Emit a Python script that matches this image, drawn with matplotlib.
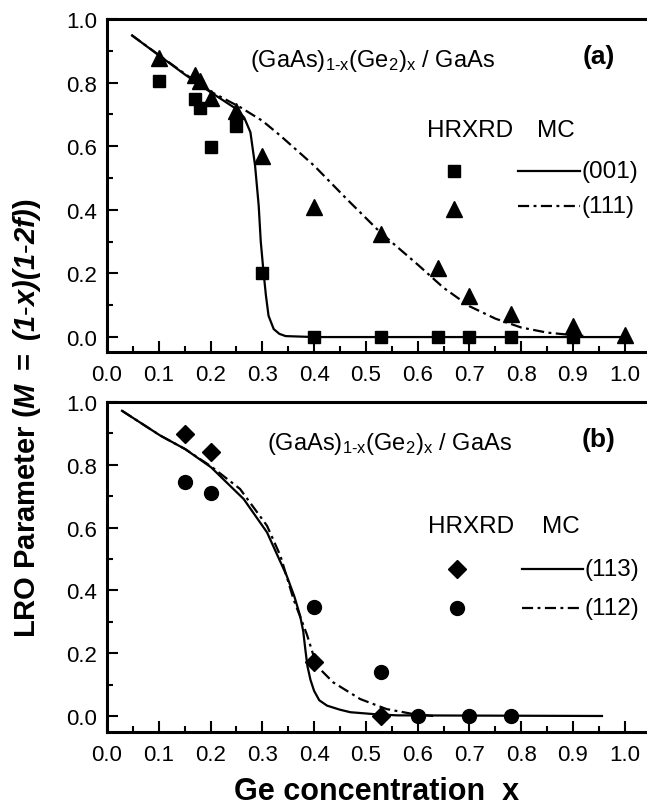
import matplotlib
matplotlib.use("Agg")
import matplotlib.pyplot as plt
from matplotlib.ticker import MultipleLocator, FormatStrFormatter

plt.rcParams['font.family'] = ['Liberation Sans', 'DejaVu Sans']
plt.rcParams['mathtext.fontset'] = 'custom'
plt.rcParams['mathtext.rm'] = 'Liberation Sans'
plt.rcParams['mathtext.it'] = 'Liberation Sans:italic'
plt.rcParams['mathtext.bf'] = 'Liberation Sans:bold'
plt.rcParams['mathtext.bfit'] = 'Liberation Sans:italic:bold'
plt.rcParams['mathtext.default'] = 'regular'

# ---------------- data: panel (a) ----------------
sq_x = [0.10, 0.17, 0.18, 0.20, 0.25, 0.30, 0.40, 0.53, 0.64, 0.70, 0.78, 0.90]
sq_y = [0.806, 0.75, 0.72, 0.597, 0.664, 0.20, 0.0, 0.0, 0.0, 0.0, 0.0, 0.0]
tri_x = [0.10, 0.17, 0.18, 0.20, 0.25, 0.30, 0.40, 0.53, 0.64, 0.70, 0.78, 0.90, 1.00]
tri_y = [0.876, 0.824, 0.806, 0.752, 0.712, 0.570, 0.408, 0.324, 0.216, 0.128, 0.074, 0.036, 0.006]
mc001_x = [0.047, 0.10, 0.15, 0.20, 0.25, 0.265, 0.277, 0.286, 0.293, 0.297, 0.302, 0.307,
           0.312, 0.322, 0.333, 0.345, 0.40, 1.0]
mc001_y = [0.95, 0.886, 0.826, 0.77, 0.717, 0.69, 0.644, 0.539, 0.413, 0.30, 0.21, 0.13,
           0.067, 0.025, 0.010, 0.003, 0.0, 0.0]
mc111_x = [0.047, 0.10, 0.15, 0.20, 0.258, 0.30, 0.335, 0.40, 0.463, 0.528, 0.60, 0.65,
           0.70, 0.75, 0.80, 0.85, 0.90, 0.92]
mc111_y = [0.95, 0.887, 0.828, 0.772, 0.722, 0.68, 0.633, 0.539, 0.434, 0.329, 0.228, 0.155,
           0.097, 0.058, 0.030, 0.014, 0.006, 0.004]

# ---------------- data: panel (b) ----------------
dia_x = [0.15, 0.20, 0.40, 0.53]
dia_y = [0.898, 0.842, 0.171, 0.0]
cir_x = [0.15, 0.20, 0.40, 0.53, 0.60, 0.70, 0.78]
cir_y = [0.744, 0.709, 0.346, 0.141, 0.0, 0.0, 0.0]
mc113_x = [0.029, 0.103, 0.151, 0.201, 0.264, 0.309, 0.347, 0.362, 0.373, 0.379, 0.383, 0.387,
           0.393, 0.40, 0.41, 0.425, 0.45, 0.47, 0.515, 0.56, 0.956]
mc113_y = [0.972, 0.893, 0.850, 0.792, 0.691, 0.585, 0.447, 0.38, 0.319, 0.27, 0.213, 0.16,
           0.115, 0.08, 0.05, 0.033, 0.02, 0.012, 0.006, 0.002, 0.0]
mc112_x = [0.029, 0.103, 0.151, 0.201, 0.257, 0.309, 0.335, 0.36, 0.386, 0.405, 0.437, 0.489,
           0.54, 0.592, 0.63]
mc112_y = [0.972, 0.893, 0.85, 0.795, 0.723, 0.606, 0.51, 0.373, 0.26, 0.16, 0.107, 0.054,
           0.022, 0.006, 0.0]

xticks = [0.0, 0.1, 0.2, 0.3, 0.4, 0.5, 0.6, 0.7, 0.8, 0.9, 1.0]
yticks = [0.0, 0.2, 0.4, 0.6, 0.8, 1.0]

title_txt = r'(GaAs)$_{\mathregular{1\text{-}x}}$(Ge$_{\mathregular{2}}$)$_{\mathregular{x}}$ / GaAs'

W, H = 647, 812
fig = plt.figure(figsize=(W / 100, H / 100), dpi=100)

def axes_rect(left, top, right, bottom):
    return [left / W, 1 - bottom / H, (right - left) / W, (bottom - top) / H]

ax1 = fig.add_axes(axes_rect(107, 20, 647, 353))
ax2 = fig.add_axes(axes_rect(107, 403, 647, 733))

DD = (0, (5, 2, 1.3, 2))
LW = 1.6
FS = 17.5
DMS = 9.5

def style(ax, ymin):
    ax.set_xlim(0, 1.043)
    ax.set_ylim(ymin, 1.0)
    ax.set_xticks(xticks)
    ax.set_yticks(yticks)
    ax.xaxis.set_minor_locator(MultipleLocator(0.05))
    ax.yaxis.set_minor_locator(MultipleLocator(0.1))
    ax.xaxis.set_major_formatter(FormatStrFormatter('%.1f'))
    ax.yaxis.set_major_formatter(FormatStrFormatter('%.1f'))
    ax.tick_params(which='both', direction='in', top=False, right=False, width=1.5)
    ax.tick_params(which='major', length=8, labelsize=16)
    ax.tick_params(which='minor', length=4)
    ax.tick_params(axis='x', which='major', pad=9)
    ax.tick_params(axis='y', which='major', pad=7)
    ax.spines['right'].set_visible(False)
    for s in ['left', 'bottom', 'top']:
        ax.spines[s].set_linewidth(2.2)

# ---- panel (a)
ax1.plot(mc001_x, mc001_y, color='black', lw=LW, solid_capstyle='butt')
ax1.plot(mc111_x, mc111_y, color='black', lw=LW, linestyle=DD)
ax1.plot(sq_x, sq_y, 's', color='black', ms=8.5, clip_on=False)
ax1.plot(tri_x, tri_y, '^', color='black', ms=11, clip_on=False)
style(ax1, -0.047)

ax1.text(0.265, 0.860, title_txt, transform=ax1.transAxes, fontsize=17, ha='left', va='baseline')
ax1.text(0.941, 0.868, '(a)', transform=ax1.transAxes, fontsize=19, fontweight='bold',
         ha='right', va='baseline')
ax1.text(0.593, 0.650, 'HRXRD', transform=ax1.transAxes, fontsize=FS, ha='left', va='baseline')
ax1.text(0.796, 0.650, 'MC', transform=ax1.transAxes, fontsize=FS, ha='left', va='baseline')
ax1.plot([0.643], [0.544], 's', color='black', ms=8.5, transform=ax1.transAxes)
ax1.plot([0.643], [0.430], '^', color='black', ms=11, transform=ax1.transAxes)
ax1.plot([0.761, 0.876], [0.544, 0.544], color='black', lw=LW, transform=ax1.transAxes)
ax1.plot([0.761, 0.876], [0.438, 0.438], color='black', lw=LW, linestyle=DD,
         transform=ax1.transAxes)
ax1.text(0.879, 0.544, '(001)', transform=ax1.transAxes, fontsize=FS, ha='left', va='center')
ax1.text(0.879, 0.438, '(111)', transform=ax1.transAxes, fontsize=FS, ha='left', va='center')

# ---- panel (b)
ax2.plot(mc113_x, mc113_y, color='black', lw=LW)
ax2.plot(mc112_x, mc112_y, color='black', lw=LW, linestyle=DD)
ax2.plot(dia_x, dia_y, 'D', color='black', ms=DMS, clip_on=False)
ax2.plot(cir_x, cir_y, 'o', color='black', ms=10, clip_on=False)
style(ax2, -0.051)

ax2.text(0.296, 0.858, title_txt, transform=ax2.transAxes, fontsize=17, ha='left', va='baseline')
ax2.text(0.941, 0.867, '(b)', transform=ax2.transAxes, fontsize=19, fontweight='bold',
         ha='right', va='baseline')
ax2.text(0.595, 0.606, 'HRXRD', transform=ax2.transAxes, fontsize=FS, ha='left', va='baseline')
ax2.text(0.806, 0.606, 'MC', transform=ax2.transAxes, fontsize=FS, ha='left', va='baseline')
ax2.plot([0.648], [0.494], 'D', color='black', ms=DMS, transform=ax2.transAxes)
ax2.plot([0.648], [0.376], 'o', color='black', ms=10, transform=ax2.transAxes)
ax2.plot([0.769, 0.882], [0.494, 0.494], color='black', lw=LW, transform=ax2.transAxes)
ax2.plot([0.769, 0.882], [0.376, 0.376], color='black', lw=LW, linestyle=DD,
         transform=ax2.transAxes)
ax2.text(0.885, 0.494, '(113)', transform=ax2.transAxes, fontsize=FS, ha='left', va='center')
ax2.text(0.885, 0.376, '(112)', transform=ax2.transAxes, fontsize=FS, ha='left', va='center')

# ---- shared labels
fig.text(27 / W, 1 - 418 / H,
         r'LRO Parameter ($\mathbfit{M}$ $\mathbf{=}$ $\mathbfit{(1\text{-}x)(1\text{-}2f)}$)',
         rotation=90, fontsize=21, fontweight='bold', ha='center', va='center')
fig.text(377 / W, 1 - 792 / H, 'Ge concentration  x', fontsize=22, fontweight='bold',
         ha='center', va='center')

fig.savefig('out.png', dpi=100)
